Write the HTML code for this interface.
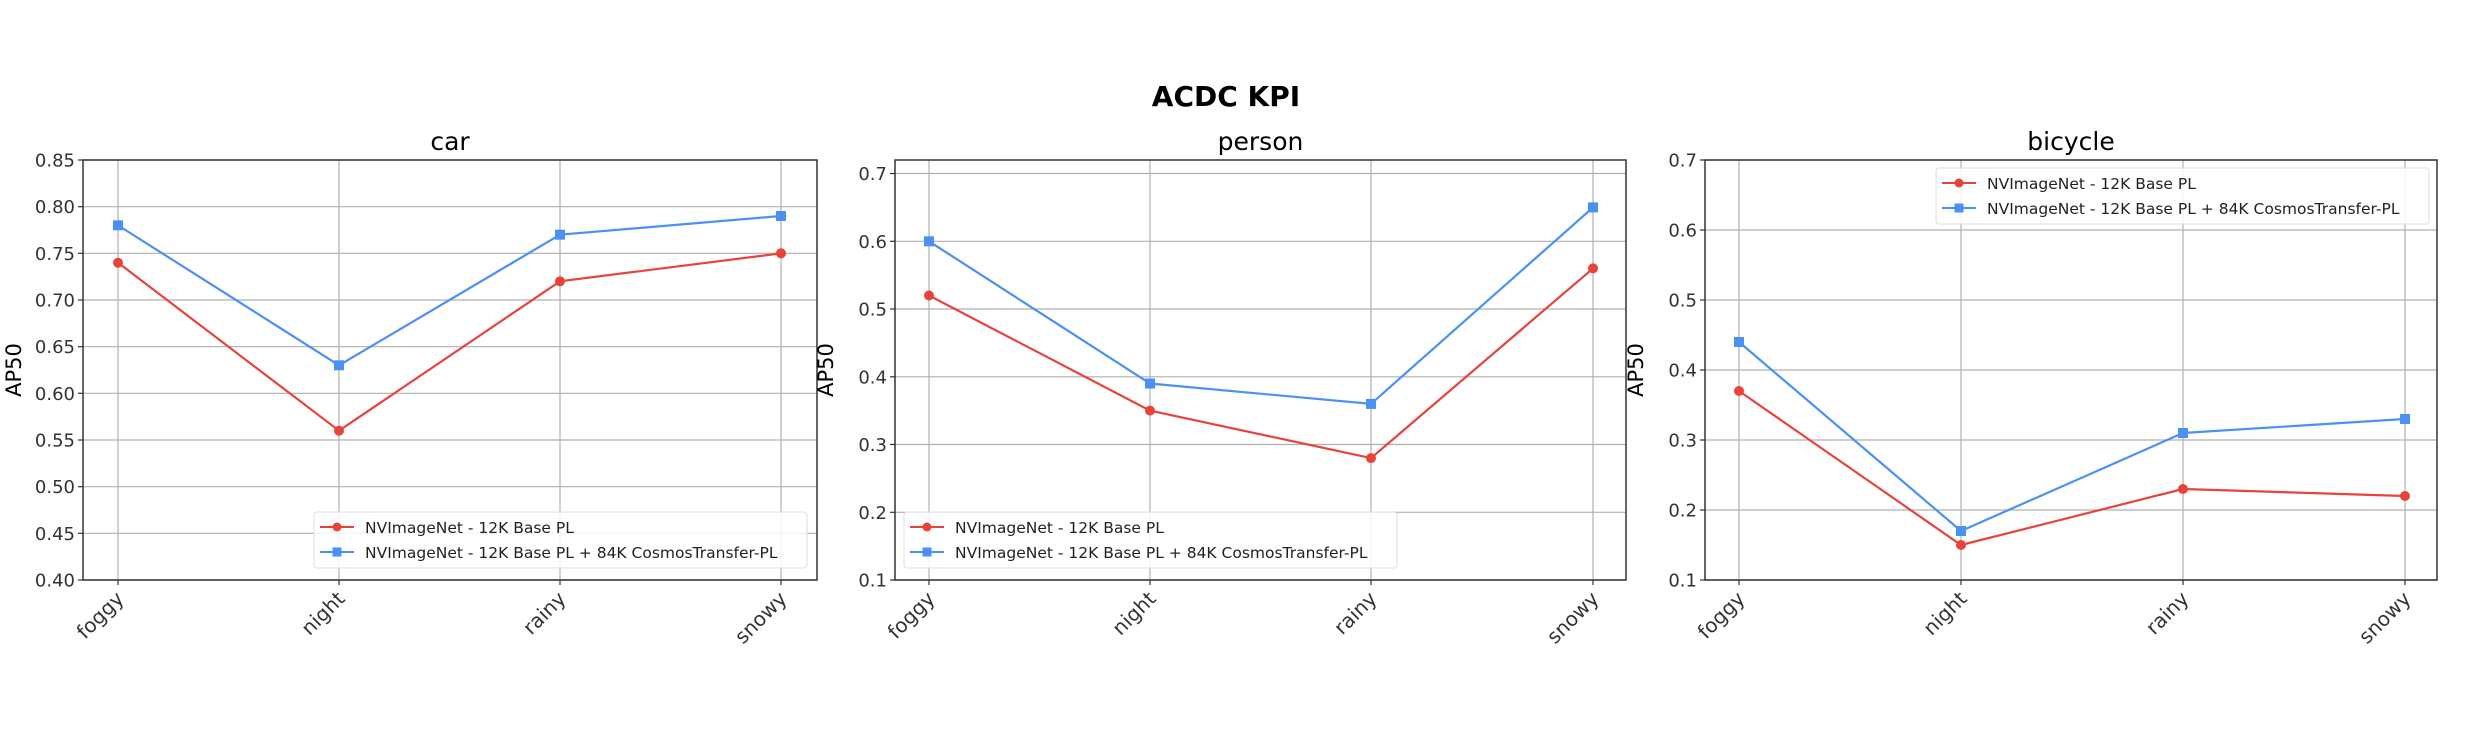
<!DOCTYPE html>
<html><head><meta charset="utf-8"><style>
html,body{margin:0;padding:0;background:#fff;width:2466px;height:733px;overflow:hidden}
svg{display:block;font-family:"DejaVu Sans","Liberation Sans",sans-serif}
</style></head><body>
<svg id="s" width="2466" height="733" xmlns="http://www.w3.org/2000/svg">
<text x="1226" y="106" text-anchor="middle" font-size="28" font-weight="bold" fill="#000">ACDC KPI</text>
</svg>
<script>
const S=document.getElementById('s');let h='';
const cats=['foggy','night','rainy','snowy'];
const panels=[
 {t:'car',L:83,R:817,T:160,B:580,ymin:0.40,ymax:0.85,ticks:[0.40,0.45,0.50,0.55,0.60,0.65,0.70,0.75,0.80,0.85],dec:2,xs:[118,339,560,781],
  r:[0.74,0.56,0.72,0.75],b:[0.78,0.63,0.77,0.79],lg:[314,512,493]},
 {t:'person',L:895,R:1626,T:160,B:580,ymin:0.1,ymax:0.72,ticks:[0.1,0.2,0.3,0.4,0.5,0.6,0.7],dec:1,xs:[929,1150,1371,1593],
  r:[0.52,0.35,0.28,0.56],b:[0.60,0.39,0.36,0.65],lg:[904,512,493]},
 {t:'bicycle',L:1705,R:2437,T:160,B:580,ymin:0.1,ymax:0.7,ticks:[0.1,0.2,0.3,0.4,0.5,0.6,0.7],dec:1,xs:[1739,1961,2183,2405],
  r:[0.37,0.15,0.23,0.22],b:[0.44,0.17,0.31,0.33],lg:[1936,168,493]}
];
for(const p of panels){
 const Y=v=>p.B-(v-p.ymin)/(p.ymax-p.ymin)*(p.B-p.T);
 for(const t of p.ticks){const y=Y(t).toFixed(1);
  h+=`<line x1="${p.L}" x2="${p.R}" y1="${y}" y2="${y}" stroke="#b0b0b0" stroke-width="1.2"/>`;
  h+=`<line x1="${p.L-5}" x2="${p.L}" y1="${y}" y2="${y}" stroke="#333" stroke-width="1.2"/>`;
  h+=`<text x="${p.L-8}" y="${+y+6.5}" text-anchor="end" font-size="18" fill="#333">${t.toFixed(p.dec)}</text>`;}
 p.xs.forEach((x,i)=>{
  h+=`<line x1="${x}" x2="${x}" y1="${p.T}" y2="${p.B}" stroke="#b0b0b0" stroke-width="1.2"/>`;
  h+=`<line x1="${x}" x2="${x}" y1="${p.B}" y2="${p.B+5}" stroke="#333" stroke-width="1.2"/>`;
  h+=`<text transform="translate(${x+7},${p.B+20}) rotate(-45)" text-anchor="end" font-size="20" fill="#333">${cats[i]}</text>`;});
 h+=`<rect x="${p.L}" y="${p.T}" width="${p.R-p.L}" height="${p.B-p.T}" fill="none" stroke="#333" stroke-width="1.5"/>`;
 h+=`<text x="${(p.L+p.R)/2}" y="${p.T-10}" text-anchor="middle" font-size="25" fill="#000">${p.t}</text>`;
 h+=`<text transform="translate(${p.L-62},${(p.T+p.B)/2}) rotate(-90)" text-anchor="middle" font-size="21" fill="#000">AP50</text>`;
 const pr=p.xs.map((x,i)=>x+','+Y(p.r[i]).toFixed(1)).join(' ');
 const pb=p.xs.map((x,i)=>x+','+Y(p.b[i]).toFixed(1)).join(' ');
 h+=`<polyline points="${pr}" fill="none" stroke="#e8433a" stroke-width="2.2"/>`;
 h+=`<polyline points="${pb}" fill="none" stroke="#4a90f5" stroke-width="2.2"/>`;
 p.xs.forEach((x,i)=>{h+=`<circle cx="${x}" cy="${Y(p.r[i]).toFixed(1)}" r="5" fill="#e8433a"/>`;
  h+=`<rect x="${x-5}" y="${(Y(p.b[i])-5).toFixed(1)}" width="10" height="10" fill="#4a90f5"/>`;});
 const [lx,ly,lw]=p.lg;
 h+=`<rect x="${lx}" y="${ly}" width="${lw}" height="56" rx="3" fill="#fff" fill-opacity="0.85" stroke="#ddd" stroke-width="1"/>`;
 h+=`<line x1="${lx+6}" x2="${lx+40}" y1="${ly+15}" y2="${ly+15}" stroke="#e8433a" stroke-width="2"/><circle cx="${lx+23}" cy="${ly+15}" r="4.5" fill="#e8433a"/>`;
 h+=`<line x1="${lx+6}" x2="${lx+40}" y1="${ly+40}" y2="${ly+40}" stroke="#4a90f5" stroke-width="2"/><rect x="${lx+18.5}" y="${ly+35.5}" width="9" height="9" fill="#4a90f5"/>`;
 h+=`<text x="${lx+51}" y="${ly+21}" font-size="15.5" fill="#222">NVImageNet - 12K Base PL</text>`;
 h+=`<text x="${lx+51}" y="${ly+46}" font-size="15.5" fill="#222">NVImageNet - 12K Base PL + 84K CosmosTransfer-PL</text>`;
}
S.insertAdjacentHTML('beforeend',h);
</script>
</body></html>
